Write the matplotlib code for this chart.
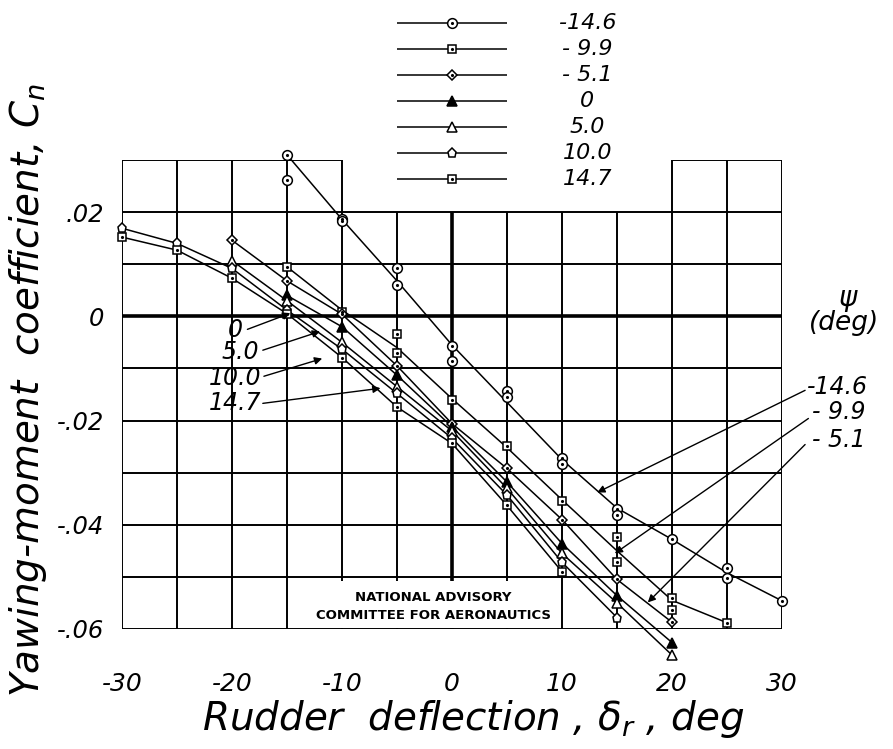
import numpy as np
import matplotlib
matplotlib.use('Agg')
import matplotlib.pyplot as plt
from matplotlib.patches import Rectangle

# ---------------- data ----------------
psi_labels = ['-14.6', '- 9.9', '- 5.1', '0', '5.0', '10.0', '14.7']

# psi = -14.6  (circle)
cx_m146 = [-15, -10, -5, 0, 5, 10, 15, 20, 25, 30]
cy_m146 = [0.0310, 0.0186, 0.0068, -0.0055, -0.0165, -0.0275, -0.0368, -0.0428, -0.0492, -0.0546]
px_m146 = [-15, -15, -10, -10, -5, -5, 0, 0, 5, 5, 10, 10, 15, 15, 20, 25, 25, 30]
py_m146 = [0.0310, 0.0261, 0.0187, 0.0182, 0.0092, 0.0061, -0.0056, -0.0086, -0.0143, -0.0155,
           -0.0271, -0.0284, -0.0369, -0.0382, -0.0427, -0.0482, -0.0503, -0.0546]

# psi = -9.9  (square)
cx_m99 = [-15, -10, -5, 0, 5, 10, 15, 20, 25]
cy_m99 = [0.0095, 0.0012, -0.0060, -0.0158, -0.0252, -0.0352, -0.0450, -0.0545, -0.0588]
px_m99 = [-15, -10, -5, -5, 0, 5, 10, 15, 15, 20, 20, 25]
py_m99 = [0.0095, 0.0008, -0.0033, -0.0071, -0.0161, -0.0248, -0.0355, -0.0424, -0.0472,
          -0.0541, -0.0564, -0.0588]

# psi = -5.1  (diamond)
cx_m51 = [-20, -15, -10, -5, 0, 5, 10, 15, 20]
cy_m51 = [0.0146, 0.0068, 0.0004, -0.0095, -0.0206, -0.0292, -0.0390, -0.0505, -0.0587]

# psi = 0  (filled triangle)
cx_0 = [-15, -10, -5, 0, 5, 10, 15, 20]
cy_0 = [0.0040, -0.0020, -0.0113, -0.0212, -0.0318, -0.0436, -0.0536, -0.0626]

# psi = 5.0
cx_5 = [-20, -15, -10, -5, 0, 5, 10, 15, 20]
cy_5 = [0.0107, 0.0030, -0.0050, -0.0135, -0.0220, -0.0330, -0.0455, -0.0550, -0.0650]

# psi = 10.0
cx_10 = [-30, -25, -20, -15, -10, -5, 0, 5, 10, 15]
cy_10 = [0.0169, 0.0140, 0.0092, 0.0012, -0.0063, -0.0148, -0.0234, -0.0343, -0.0472, -0.0578]

# psi = 14.7
cx_147 = [-30, -25, -20, -15, -10, -5, 0, 5, 10]
cy_147 = [0.0152, 0.0127, 0.0073, 0.0005, -0.0079, -0.0174, -0.0244, -0.0363, -0.0490]

x_ticks = [-30, -20, -10, 0, 10, 20, 30]
x_ticklabels = ['-30', '-20', '-10', '0', '10', '20', '30']
y_ticks = [0.02, 0.0, -0.02, -0.04, -0.06]
y_ticklabels = ['.02', '0', '-.02', '-.04', '-.06']

# ---------------- style ----------------
FONT = ['DejaVu Sans']
plt.rcParams['font.family'] = FONT
plt.rcParams['mathtext.fontset'] = 'dejavusans'
HAND = dict(family=FONT, style='oblique', weight='normal')

fig = plt.figure(figsize=(8.93, 7.49), dpi=100)
ax = fig.add_axes([122/893, 1-629/749, 660/893, 469/749])
ax.set_xlim(-30, 30)
ax.set_ylim(-0.06, 0.03)
for s in ax.spines.values():
    s.set_visible(False)

# grid (partial top row)
for xv in np.arange(-30, 31, 5):
    top = 0.03 if (xv <= -10 or xv >= 20) else 0.02
    ax.vlines(xv, -0.06, top, color='k', lw=2.6 if xv == 0 else 1.4, zorder=1)
for yv in np.arange(-0.06, 0.0201, 0.01):
    ax.hlines(yv, -30, 30, color='k', lw=2.6 if abs(yv) < 1e-9 else 1.4,
              zorder=3 if yv < -0.059 else 1)
ax.hlines(0.03, -30, -10, color='k', lw=1.4, zorder=1)
ax.hlines(0.03, 20, 30, color='k', lw=1.4, zorder=1)

# NACA label box
ax.add_patch(Rectangle((-14.6, -0.0598), 24.0, 0.0090, facecolor='white',
                       edgecolor='none', zorder=2))
ax.text(-1.7, -0.0557, 'NATIONAL ADVISORY\nCOMMITTEE FOR AERONAUTICS', ha='center',
        va='center', fontsize=9.5, fontweight='bold', family='DejaVu Sans',
        linespacing=1.45, zorder=3)

styles = {
    '-14.6': dict(marker='o', mfc='white', ms=7, dot=True),
    '- 9.9': dict(marker='s', mfc='white', ms=6, dot=True),
    '- 5.1': dict(marker='D', mfc='white', ms=5.5, dot=True),
    '0':     dict(marker='^', mfc='k', ms=6.5, dot=False),
    '5.0':   dict(marker='^', mfc='white', ms=6.5, dot=False),
    '10.0':  dict(marker='p', mfc='white', ms=6.5, dot=False),
    '14.7':  dict(marker='s', mfc='white', ms=6, dot=True),
}

def draw(cx, cy, px, py, st):
    ax.plot(cx, cy, '-', color='k', lw=1.1, clip_on=False, zorder=4)
    ax.plot(px, py, ls='none', marker=st['marker'], mfc=st['mfc'], mec='k', ms=st['ms'],
            mew=1.1, clip_on=False, zorder=5)
    if st['dot']:
        ax.plot(px, py, ls='none', marker='.', ms=2.5, color='k', clip_on=False, zorder=6)

draw(cx_m146, cy_m146, px_m146, py_m146, styles['-14.6'])
draw(cx_m99, cy_m99, px_m99, py_m99, styles['- 9.9'])
draw(cx_m51, cy_m51, cx_m51, cy_m51, styles['- 5.1'])
draw(cx_0, cy_0, cx_0, cy_0, styles['0'])
draw(cx_5, cy_5, cx_5, cy_5, styles['5.0'])
draw(cx_10, cy_10, cx_10, cy_10, styles['10.0'])
draw(cx_147, cy_147, cx_147, cy_147, styles['14.7'])

# ticks
ax.set_xticks(x_ticks)
ax.set_xticklabels(x_ticklabels, fontsize=18, **HAND)
ax.set_yticks(y_ticks)
ax.set_yticklabels(y_ticklabels, fontsize=17.5, **HAND)
ax.tick_params(length=0)
ax.tick_params(axis='x', pad=31)
ax.tick_params(axis='y', pad=13)

# axis titles
fig.text(473/893, 1-719/749, r'Rudder  deflection , $\delta_r$ , deg', ha='center',
         va='center', fontsize=28, **HAND)
fig.text(28/893, 1-390/749, r'Yawing-moment  coefficient, $C_n$', ha='center',
         va='center', rotation=90, fontsize=28, **HAND)

# callouts (left)
arrow = dict(arrowstyle='-|>', lw=1.0, color='k', mutation_scale=11, shrinkA=0, shrinkB=0)
left_calls = [('0', (-19.0, -0.0027), (-18.6, -0.0025), (-14.7, 0.0006)),
              ('5.0', (-17.5, -0.0069), (-17.2, -0.0065), (-12.0, -0.0029)),
              ('10.0', (-17.3, -0.0119), (-17.1, -0.0115), (-11.8, -0.0081)),
              ('14.7', (-17.3, -0.0167), (-17.2, -0.0167), (-6.5, -0.0138))]
for lab, tp, a0, a1 in left_calls:
    ax.text(tp[0], tp[1], lab, ha='right', va='center', fontsize=17, zorder=7, **HAND)
    ax.annotate('', xy=a1, xytext=a0, arrowprops=arrow, zorder=7)

right_calls = [('-14.6', (32.3, -0.0136), (32.1, -0.0142), (13.2, -0.0338)),
               ('- 9.9', (32.7, -0.0184), (32.4, -0.0196), (14.8, -0.0455)),
               ('- 5.1', (32.7, -0.0238), (32.1, -0.0246), (17.8, -0.0549))]
for lab, tp, a0, a1 in right_calls:
    ax.text(tp[0], tp[1], lab, ha='left', va='center', fontsize=17, zorder=7,
            clip_on=False, **HAND)
    ax.annotate('', xy=a1, xytext=a0, arrowprops=arrow, zorder=7, annotation_clip=False)

ax.text(36.0, 0.0035, 'ψ', ha='center', va='center', fontsize=20, clip_on=False, **HAND)
ax.text(35.6, -0.0012, '(deg)', ha='center', va='center', fontsize=19, clip_on=False, **HAND)

# legend (drawn in its own small axes)
lax = fig.add_axes([397/893, 1-192/749, 110/893, 182/749])
lax.set_xlim(0, 1)
lax.set_ylim(6.5, -0.5)
lax.axis('off')
for i, lab in enumerate(psi_labels):
    st = styles[lab]
    lax.plot([0, 1], [i, i], color='k', lw=1.1)
    lax.plot([0.5], [i], ls='none', marker=st['marker'], mfc=st['mfc'], mec='k',
             ms=st['ms'], mew=1.1)
    if st['dot']:
        lax.plot([0.5], [i], ls='none', marker='.', ms=2.5, color='k')
    lax.text(1.73, i, lab, ha='center', va='center', fontsize=16, clip_on=False, **HAND)

fig.savefig('out.png', dpi=100)
